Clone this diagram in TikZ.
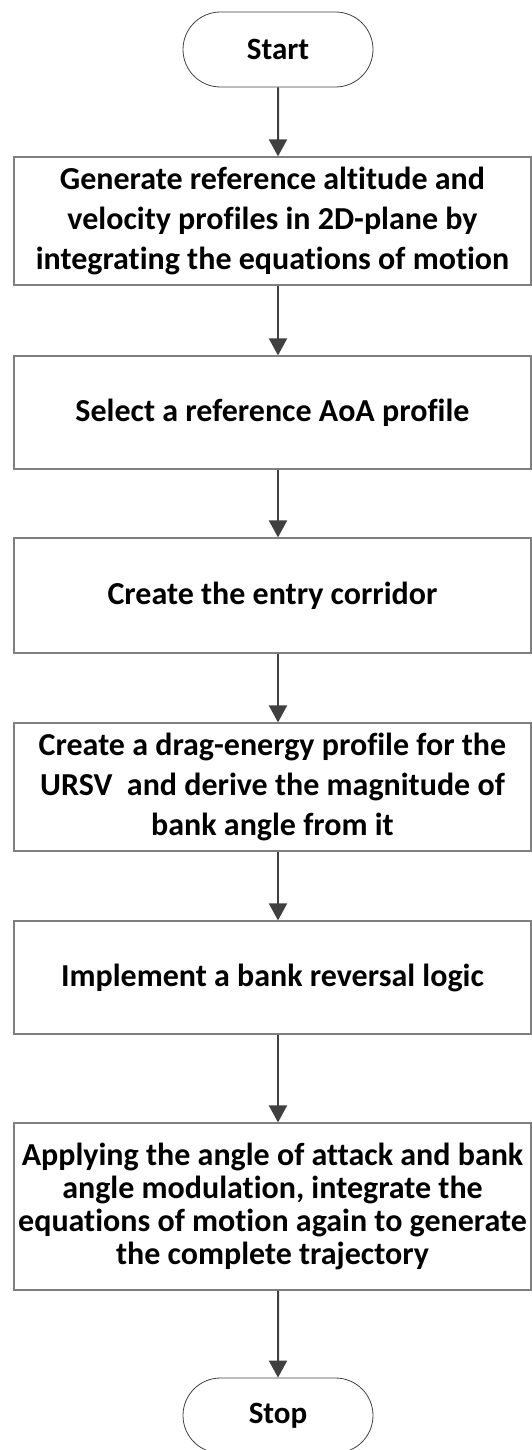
\documentclass[tikz,border=0pt]{standalone}
\usepackage{fontspec}
\setmainfont{Carlito}[Ligatures=NoCommon]
\usetikzlibrary{arrows.meta, shapes.misc}
\definecolor{boxgray}{RGB}{127,127,127}
\definecolor{arrowgray}{RGB}{64,64,64}
\definecolor{textblack}{RGB}{0,0,0}

\begin{document}
\begin{tikzpicture}[x=1pt, y=-1pt, >={Triangle[width=18pt, length=17pt]},
  term/.style={draw=arrowgray, line width=0.8pt, rounded rectangle,
    minimum width=190pt, minimum height=75pt, inner sep=0pt,
    font=\fontsize{31}{36}\selectfont\bfseries},
  proc/.style={draw=boxgray, line width=1.2pt, rectangle, minimum width=517pt,
    inner sep=0pt, align=center, text=textblack,
    font=\fontsize{32}{40}\selectfont\bfseries},
  flow/.style={->, draw=arrowgray, line width=2pt}]

\useasboundingbox (0,0) rectangle (532,1450);

%% terminals
\node[term] (start) at (278,49.5) {Start};
\node[term] (stop)  at (278,1415.5) {Stop};

%% process boxes
\node[proc, minimum height=128pt] (gen) at (272.5,221)
  {Generate reference altitude and\\velocity profiles in 2D-plane by\\integrating the equations of motion};
\node[proc, minimum height=113pt] (aoa) at (272.5,412.5)
  {Select a reference AoA profile};
\node[proc, minimum height=115pt] (corr) at (272.5,595.5)
  {Create the entry corridor};
\node[proc, minimum height=128pt] (drag) at (272.5,787)
  {Create a drag-energy profile for the\\URSV\ \ and derive the magnitude of\\bank angle from it};
\node[proc, minimum height=113pt] (rev) at (272.5,977.5)
  {Implement a bank reversal logic};
\node[proc, minimum height=167pt, font=\fontsize{32}{33}\selectfont\bfseries] (traj) at (272.5,1206.5)
  {Applying the angle of attack and bank\\angle modulation, integrate the\\equations of motion again to generate\\the complete trajectory};

%% connectors
\draw[flow] (start) -- (start |- gen.north);
\draw[flow] (start |- gen.south) -- (start |- aoa.north);
\draw[flow] (start |- aoa.south) -- (start |- corr.north);
\draw[flow] (start |- corr.south) -- (start |- drag.north);
\draw[flow] (start |- drag.south) -- (start |- rev.north);
\draw[flow] (start |- rev.south) -- (start |- traj.north);
\draw[flow] (start |- traj.south) -- (stop);
\end{tikzpicture}
\end{document}
